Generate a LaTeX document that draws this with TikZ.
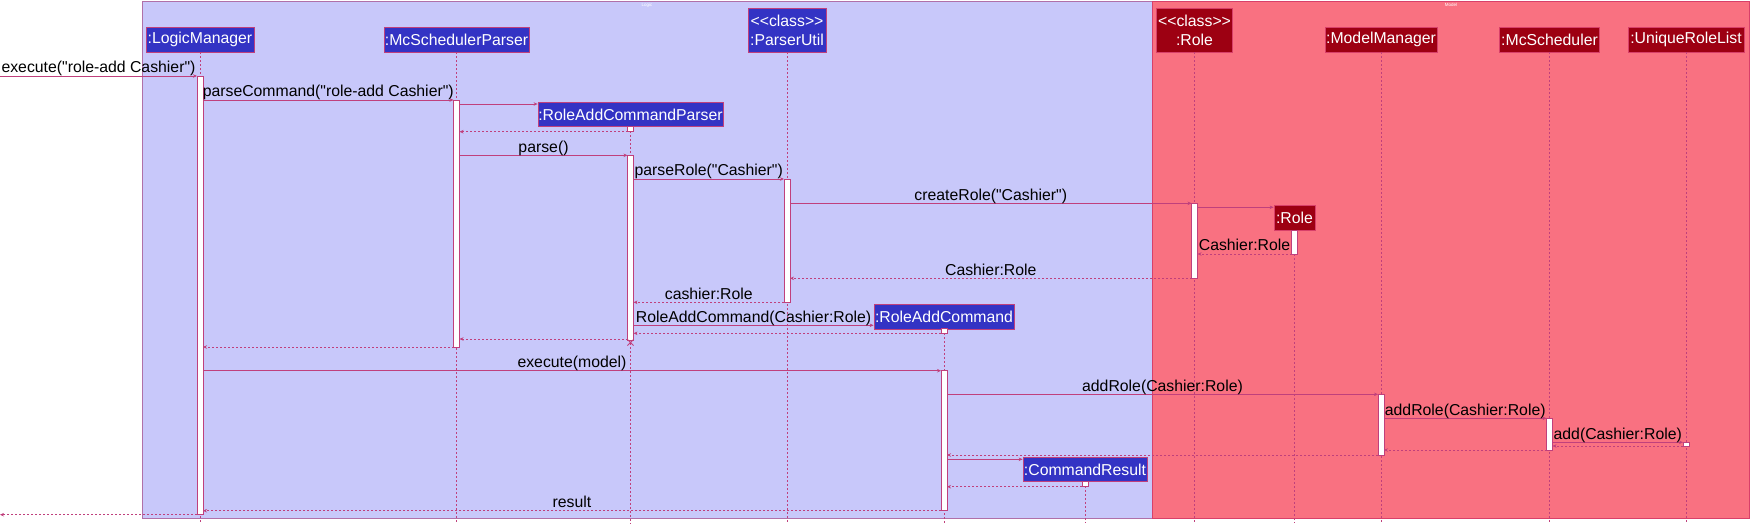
\documentclass[tikz,border=0pt]{standalone}
\usepackage{fontspec}
\setmainfont{Liberation Sans}[Ligatures=TeXOff]
\usetikzlibrary{arrows.meta,calc}
\definecolor{logicbg}{HTML}{C8C8FA}
\definecolor{modelbg}{HTML}{F97181}
\definecolor{logicpart}{HTML}{3333C4}
\definecolor{modelpart}{HTML}{9D0012}
\definecolor{linec}{HTML}{C0407C}
\definecolor{lboxline}{HTML}{B070A8}
\definecolor{mboxline}{HTML}{D8406A}
\newcommand\msgfont{\fontsize{15.8}{19}\selectfont}
\newcommand\actbox[3]{\draw[actbar] ([xshift=-3pt]#1 |- 0,#2) rectangle ([xshift=3pt]#1 |- 0,#3);}
\begin{document}
\begin{tikzpicture}[x=1pt,y=-1pt,
  lpart/.style={draw=linec, line width=0.8pt, fill=logicpart, text=white, inner sep=0pt, font=\msgfont, align=center},
  mpart/.style={draw=mboxline, line width=0.8pt, fill=modelpart, text=white, inner sep=0pt, font=\msgfont, align=center},
  lifeline/.style={draw=linec, line width=0.55pt, dash pattern=on 2pt off 2pt},
  actbar/.style={draw=linec, fill=white, line width=0.8pt},
  msg/.style={draw=linec, line width=0.7pt, -{Stealth[length=4pt,width=3.5pt]}},
  ret/.style={msg, dash pattern=on 2pt off 2pt},
  lbl/.style={font=\msgfont, text=black, inner sep=0pt, anchor=base, yshift=3.2pt},
  rtitle/.style={font=\fontsize{4.5}{5}\selectfont, text=white, inner sep=0pt}
]
\useasboundingbox (0,0) rectangle (1750,523);
% regions
\draw[draw=lboxline, line width=1pt, fill=logicbg] (142,1) rectangle (1152,518.7);
\draw[draw=mboxline, line width=1pt, fill=modelbg] (1152,1) rectangle (1749.5,518.7);
\node[rtitle] (tlogic) at (647,5) {Logic};
\node[rtitle] (tmodel) at (1451,5) {Model};
% participants
\node[lpart, minimum width=108pt, minimum height=25pt] (lm) at (200,39.5) {:LogicManager};
\node[lpart, minimum width=145pt, minimum height=25pt] (msp) at (456.5,39.5) {:McSchedulerParser};
\node[lpart, minimum width=78pt, minimum height=44pt] (pu) at (787,30) {<<class>>\\:ParserUtil};
\node[mpart, minimum width=76pt, minimum height=44pt] (rc) at (1194.5,30) {<<class>>\\:Role};
\node[mpart, minimum width=112pt, minimum height=25pt] (mm) at (1381,39.5) {:ModelManager};
\node[mpart, minimum width=100pt, minimum height=25pt] (ms) at (1549.5,39.5) {:McScheduler};
\node[mpart, minimum width=116pt, minimum height=25pt] (url) at (1686,39.5) {:UniqueRoleList};
\node[lpart, minimum width=185pt, minimum height=24pt] (racp) at (630.5,114.5) {:RoleAddCommandParser};
\node[mpart, minimum width=41pt, minimum height=25pt] (role) at (1294.5,217.5) {:Role};
\node[lpart, minimum width=140pt, minimum height=25pt] (rac) at (944,316.5) {:RoleAddCommand};
\node[lpart, minimum width=124pt, minimum height=24pt] (cr) at (1085,469.5) {:CommandResult};
% lifelines
\foreach \p in {lm,msp,pu,rc,mm,ms,url,racp,role,rac,cr}
  \draw[lifeline] (\p.south) -- (\p.south |- 0,523);
% activation bars
\actbox{lm}{76}{514.7}
\actbox{msp}{100}{347}
\actbox{racp}{126}{131.7}
\actbox{racp}{155.3}{340}
\actbox{pu}{179}{302.3}
\actbox{rc}{203.3}{278.3}
\actbox{role}{230}{254}
\actbox{rac}{328.7}{333.3}
\actbox{rac}{370.7}{510.7}
\actbox{mm}{394.3}{455}
\actbox{ms}{418.3}{450}
\actbox{url}{442.3}{446}
\actbox{cr}{481.3}{486.7}
% free ends
\coordinate (entry) at (0,76);
\coordinate (exit) at (0,514.7);
% messages
\draw[msg] (entry) -- ([xshift=-3pt]lm |- entry) node[lbl,midway]{execute("role-add Cashier")};
\draw[msg] ([xshift=3pt]lm |- 0,100) -- ([xshift=-3pt]msp |- 0,100) node[lbl,midway]{parseCommand("role-add Cashier")};
\draw[msg] ([xshift=3pt]msp |- 0,104) -- (racp.west |- 0,104);
\draw[ret] ([xshift=-3pt]racp |- 0,131.7) -- ([xshift=3pt]msp |- 0,131.7);
\draw[msg] ([xshift=3pt]msp |- 0,155.3) -- ([xshift=-3pt]racp |- 0,155.3) node[lbl,midway]{parse()};
\draw[msg] ([xshift=3pt]racp |- 0,179) -- ([xshift=-3pt]pu |- 0,179) node[lbl,midway]{parseRole("Cashier")};
\draw[msg] ([xshift=3pt]pu |- 0,203.3) -- ([xshift=-3pt]rc |- 0,203.3) node[lbl,midway]{createRole("Cashier")};
\draw[msg] ([xshift=3pt]rc |- 0,207.3) -- (role.west |- 0,207.3);
\draw[ret] ([xshift=-3pt]role |- 0,254) -- ([xshift=3pt]rc |- 0,254) node[lbl,midway]{Cashier:Role};
\draw[ret] ([xshift=-3pt]rc |- 0,278.3) -- ([xshift=3pt]pu |- 0,278.3) node[lbl,midway]{Cashier:Role};
\draw[ret] ([xshift=-3pt]pu |- 0,302.3) -- ([xshift=3pt]racp |- 0,302.3) node[lbl,midway]{cashier:Role};
\draw[msg] ([xshift=3pt]racp |- 0,325.3) -- (rac.west |- 0,325.3) node[lbl,midway]{RoleAddCommand(Cashier:Role)};
\draw[ret] ([xshift=-3pt]rac |- 0,333.3) -- ([xshift=3pt]racp |- 0,333.3);
\draw[ret] ([xshift=-3pt]racp |- 0,339) -- ([xshift=3pt]msp |- 0,339);
\coordinate (xd) at (racp |- 0,342.5);
\draw[linec, line width=0.8pt] ([shift={(-3,-3)}]xd) -- ([shift={(3,3)}]xd) ([shift={(3,-3)}]xd) -- ([shift={(-3,3)}]xd);
\draw[ret] ([xshift=-3pt]msp |- 0,347) -- ([xshift=3pt]lm |- 0,347);
\draw[msg] ([xshift=3pt]lm |- 0,370.7) -- ([xshift=-3pt]rac |- 0,370.7) node[lbl,midway]{execute(model)};
\draw[msg] ([xshift=3pt]rac |- 0,394.3) -- ([xshift=-3pt]mm |- 0,394.3) node[lbl,midway]{addRole(Cashier:Role)};
\draw[msg] ([xshift=3pt]mm |- 0,418.3) -- ([xshift=-3pt]ms |- 0,418.3) node[lbl,midway]{addRole(Cashier:Role)};
\draw[msg] ([xshift=3pt]ms |- 0,442.3) -- ([xshift=-3pt]url |- 0,442.3) node[lbl,midway]{add(Cashier:Role)};
\draw[ret] ([xshift=-3pt]url |- 0,446) -- ([xshift=3pt]ms |- 0,446);
\draw[ret] ([xshift=-3pt]ms |- 0,450) -- ([xshift=3pt]mm |- 0,450);
\draw[ret] ([xshift=-3pt]mm |- 0,455) -- ([xshift=3pt]rac |- 0,455);
\draw[msg] ([xshift=3pt]rac |- 0,459.3) -- (cr.west |- 0,459.3);
\draw[ret] ([xshift=-3pt]cr |- 0,486.7) -- ([xshift=3pt]rac |- 0,486.7);
\draw[ret] ([xshift=-3pt]rac |- 0,510.7) -- ([xshift=3pt]lm |- 0,510.7) node[lbl,midway]{result};
\draw[ret] ([xshift=-3pt]lm |- exit) -- (exit);
\end{tikzpicture}
\end{document}
